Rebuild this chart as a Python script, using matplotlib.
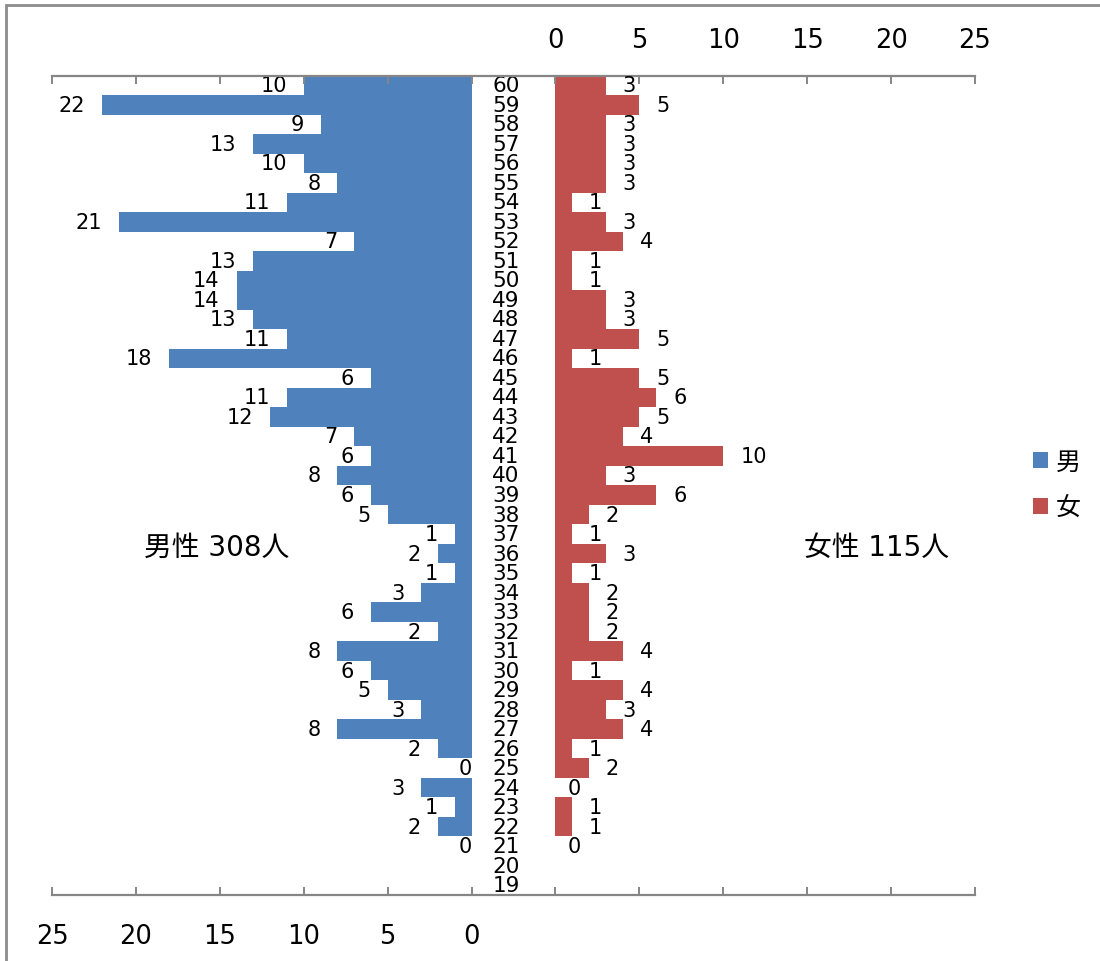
import matplotlib
matplotlib.use("Agg")
import matplotlib.pyplot as plt
from matplotlib.patches import Rectangle
from matplotlib.ticker import FuncFormatter

# ---- data ----
ages = list(range(60, 20, -1))          # ages with data (60 .. 21)
age_labels = list(range(60, 18, -1))    # all category labels (60 .. 19)
male = [10, 22, 9, 13, 10, 8, 11, 21, 7, 13, 14, 14, 13, 11, 18, 6, 11, 12, 7, 6,
        8, 6, 5, 1, 2, 1, 3, 6, 2, 8, 6, 5, 3, 8, 2, 0, 3, 1, 2, 0]
female = [3, 5, 3, 3, 3, 3, 1, 3, 4, 1, 1, 3, 3, 5, 1, 5, 6, 5, 4, 10,
          3, 6, 2, 1, 3, 1, 2, 2, 2, 4, 1, 4, 3, 4, 1, 2, 0, 1, 1, 0]
series_names = ["男", "女"]
totals_text = ["男性 308人", "女性 115人"]
ticks = list(range(-30, 26, 5))

BLUE = "#4F81BD"
RED = "#C0504D"
GRAY = "#868686"

W, H = 1100, 962
fig = plt.figure(figsize=(W / 100, H / 100), dpi=100)

def px(x, y):
    return x / W, 1 - y / H

x0, x1 = 52, 975
y_top, y_bot = 76.5, 896
ax = fig.add_axes([x0 / W, 1 - y_bot / H, (x1 - x0) / W, (y_bot - y_top) / H])
ax2 = ax.twiny()

# male on bottom axis (reversed)
ax.set_xlim(25, -30)
ax2.set_xlim(-30, 25)
ax.set_ylim(18.5, 60.5)
ax.set_yticks([])

bm = ax.barh(ages, male, height=1.0, color=BLUE, linewidth=0)
bf = ax2.barh(ages, female, height=1.0, color=RED, linewidth=0)

fmt = FuncFormatter(lambda v, p: f"{int(v)}" if v >= 0 else "")
for a, loc in ((ax, "bottom"), (ax2, "top")):
    a.set_xticks(ticks)
    a.xaxis.set_major_formatter(fmt)
    for s in a.spines.values():
        s.set_visible(False)
    a.spines[loc].set_visible(True)
    a.spines[loc].set_color(GRAY)
    a.spines[loc].set_linewidth(1.6)
    a.tick_params(axis="x", direction="in", length=6, width=1.4, color=GRAY,
                  labelsize=18.5, labelcolor="black")
    a.tick_params(axis="y", length=0)
ax.tick_params(axis="x", pad=20)
ax2.tick_params(axis="x", pad=16.5)
ax2.set_yticks([])

# data labels
for age, v in zip(ages, male):
    off = -12.2 if v > 0 else 0
    ax.annotate(str(v), (v, age), xytext=(off, 0), textcoords="offset points",
                ha="right", va="center", fontsize=15)
for age, v in zip(ages, female):
    off = 12.2 if v > 0 else 8.5
    ax2.annotate(str(v), (v, age), xytext=(off, 0), textcoords="offset points",
                 ha="left", va="center", fontsize=15)

# age category labels in the middle
xc = (506 - x0) / (x1 - x0)
for a in age_labels:
    ax.text(xc, a, str(a), transform=ax.get_yaxis_transform(), ha="center",
            va="center", fontsize=15.5)

# totals
fam = ["DejaVu Sans", "Noto Sans CJK JP"]
fig.text(*px(217, 548), totals_text[0], ha="center", va="center", fontsize=20, family=fam)
fig.text(*px(876, 548), totals_text[1], ha="center", va="center", fontsize=20, family=fam)

# legend
fig.legend([bm, bf], series_names, loc="center left",
           bbox_to_anchor=px(1033, 486), frameon=False, borderpad=0, borderaxespad=0,
           handlelength=0.6, handleheight=0.6, handletextpad=0.3, labelspacing=0.8,
           prop={"family": ["Noto Sans CJK JP"], "size": 18})

# outer frame (left & top visible)
fig.patches.append(Rectangle((6 / W, -0.5), 2, 1 - 6 / H + 0.5, transform=fig.transFigure,
                             fill=False, edgecolor="#8c8c8c", linewidth=2))

fig.savefig("out.png", dpi=100)
